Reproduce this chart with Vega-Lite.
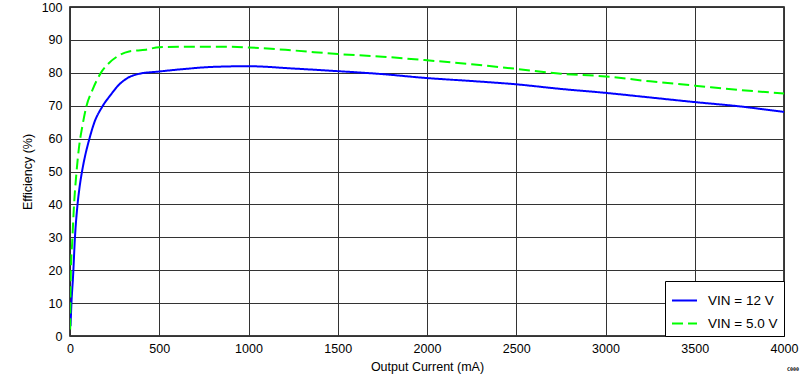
{
  "$schema": "https://vega.github.io/schema/vega-lite/v6.json",
  "width": 714,
  "height": 329,
  "autosize": {"type": "none"},
  "padding": {"left": 70, "top": 7, "right": 19, "bottom": 46},
  "background": "white",
  "title": {"text": "C000", "orient": "bottom", "anchor": "end", "frame": "group", "align": "left", "fontSize": 5, "font": "DejaVu Sans Mono", "fontWeight": "bold", "color": "#000", "dx": 3, "offset": -6},
  "config": {
    "font": "Liberation Sans",
    "view": {"stroke": "#000", "strokeWidth": 1.5},
    "axis": {"labelFont": "Liberation Sans", "titleFont": "Liberation Sans", "labelFontSize": 12.5, "titleFontSize": 12.5, "titleFontWeight": "normal", "labelColor": "#000", "titleColor": "#000", "gridColor": "#333", "gridOpacity": 1, "gridWidth": 1, "domain": false, "ticks": false}
  },
  "data": {
    "values": [
      {"current": 3, "eff": 3, "series": "VIN = 12 V"},
      {"current": 8, "eff": 9.9, "series": "VIN = 12 V"},
      {"current": 17, "eff": 18, "series": "VIN = 12 V"},
      {"current": 28, "eff": 30.2, "series": "VIN = 12 V"},
      {"current": 41, "eff": 39.3, "series": "VIN = 12 V"},
      {"current": 54, "eff": 45.4, "series": "VIN = 12 V"},
      {"current": 69, "eff": 50.5, "series": "VIN = 12 V"},
      {"current": 84, "eff": 54.6, "series": "VIN = 12 V"},
      {"current": 107, "eff": 59.6, "series": "VIN = 12 V"},
      {"current": 135, "eff": 64.7, "series": "VIN = 12 V"},
      {"current": 182, "eff": 69.8, "series": "VIN = 12 V"},
      {"current": 228, "eff": 73.3, "series": "VIN = 12 V"},
      {"current": 275, "eff": 76.4, "series": "VIN = 12 V"},
      {"current": 322, "eff": 78.4, "series": "VIN = 12 V"},
      {"current": 388, "eff": 79.7, "series": "VIN = 12 V"},
      {"current": 500, "eff": 80.4, "series": "VIN = 12 V"},
      {"current": 650, "eff": 81.2, "series": "VIN = 12 V"},
      {"current": 800, "eff": 81.8, "series": "VIN = 12 V"},
      {"current": 1000, "eff": 82.0, "series": "VIN = 12 V"},
      {"current": 1250, "eff": 81.3, "series": "VIN = 12 V"},
      {"current": 1500, "eff": 80.5, "series": "VIN = 12 V"},
      {"current": 1750, "eff": 79.6, "series": "VIN = 12 V"},
      {"current": 2000, "eff": 78.4, "series": "VIN = 12 V"},
      {"current": 2250, "eff": 77.5, "series": "VIN = 12 V"},
      {"current": 2500, "eff": 76.5, "series": "VIN = 12 V"},
      {"current": 2750, "eff": 75.1, "series": "VIN = 12 V"},
      {"current": 3000, "eff": 73.9, "series": "VIN = 12 V"},
      {"current": 3250, "eff": 72.5, "series": "VIN = 12 V"},
      {"current": 3500, "eff": 71.1, "series": "VIN = 12 V"},
      {"current": 3750, "eff": 69.8, "series": "VIN = 12 V"},
      {"current": 4000, "eff": 68.1, "series": "VIN = 12 V"},
      {"current": 1, "eff": 2, "series": "VIN = 5.0 V"},
      {"current": 4, "eff": 18, "series": "VIN = 5.0 V"},
      {"current": 13, "eff": 29.2, "series": "VIN = 5.0 V"},
      {"current": 22, "eff": 39.3, "series": "VIN = 5.0 V"},
      {"current": 36, "eff": 49.5, "series": "VIN = 5.0 V"},
      {"current": 51, "eff": 57.6, "series": "VIN = 5.0 V"},
      {"current": 69, "eff": 63.7, "series": "VIN = 5.0 V"},
      {"current": 92, "eff": 69.8, "series": "VIN = 5.0 V"},
      {"current": 126, "eff": 74.8, "series": "VIN = 5.0 V"},
      {"current": 172, "eff": 79.9, "series": "VIN = 5.0 V"},
      {"current": 219, "eff": 83.0, "series": "VIN = 5.0 V"},
      {"current": 266, "eff": 85.0, "series": "VIN = 5.0 V"},
      {"current": 331, "eff": 86.5, "series": "VIN = 5.0 V"},
      {"current": 425, "eff": 87.0, "series": "VIN = 5.0 V"},
      {"current": 500, "eff": 87.8, "series": "VIN = 5.0 V"},
      {"current": 687, "eff": 87.9, "series": "VIN = 5.0 V"},
      {"current": 893, "eff": 87.9, "series": "VIN = 5.0 V"},
      {"current": 1000, "eff": 87.7, "series": "VIN = 5.0 V"},
      {"current": 1250, "eff": 86.8, "series": "VIN = 5.0 V"},
      {"current": 1500, "eff": 85.7, "series": "VIN = 5.0 V"},
      {"current": 1750, "eff": 84.9, "series": "VIN = 5.0 V"},
      {"current": 2000, "eff": 83.8, "series": "VIN = 5.0 V"},
      {"current": 2250, "eff": 82.6, "series": "VIN = 5.0 V"},
      {"current": 2500, "eff": 81.2, "series": "VIN = 5.0 V"},
      {"current": 2750, "eff": 79.7, "series": "VIN = 5.0 V"},
      {"current": 3000, "eff": 78.9, "series": "VIN = 5.0 V"},
      {"current": 3250, "eff": 77.4, "series": "VIN = 5.0 V"},
      {"current": 3500, "eff": 76.1, "series": "VIN = 5.0 V"},
      {"current": 3750, "eff": 74.8, "series": "VIN = 5.0 V"},
      {"current": 4000, "eff": 73.7, "series": "VIN = 5.0 V"}
    ]
  },
  "mark": {"type": "line", "strokeWidth": 2, "interpolate": "monotone", "clip": true},
  "encoding": {
    "x": {"field": "current", "type": "quantitative", "scale": {"domain": [0, 4000], "nice": false}, "axis": {"title": "Output Current (mA)", "format": "d", "values": [0,500,1000,1500,2000,2500,3000,3500,4000], "labelPadding": 6, "titlePadding": 6, "labelFlush": false}},
    "y": {"field": "eff", "type": "quantitative", "scale": {"domain": [0, 100], "nice": false}, "axis": {"title": "Efficiency (%)", "values": [0,10,20,30,40,50,60,70,80,90,100], "labelPadding": 8, "titlePadding": 7, "labelFlush": false}},
    "color": {"field": "series", "type": "nominal", "scale": {"domain": ["VIN = 12 V", "VIN = 5.0 V"], "range": ["#0000ff", "#00ff00"]}, "legend": {"title": null, "orient": "bottom-right", "offset": 0, "strokeColor": "#000", "fillColor": "#fff", "padding": 6, "symbolType": "stroke", "symbolSize": 625, "symbolStrokeWidth": 2, "labelFontSize": 13.5, "labelFont": "Liberation Sans", "labelColor": "#000", "labelOffset": 10, "rowPadding": 3, "cornerRadius": 0}},
    "strokeDash": {"field": "series", "type": "nominal", "scale": {"domain": ["VIN = 12 V", "VIN = 5.0 V"], "range": [[1, 0], [11, 5]]}, "legend": null}
  }
}
